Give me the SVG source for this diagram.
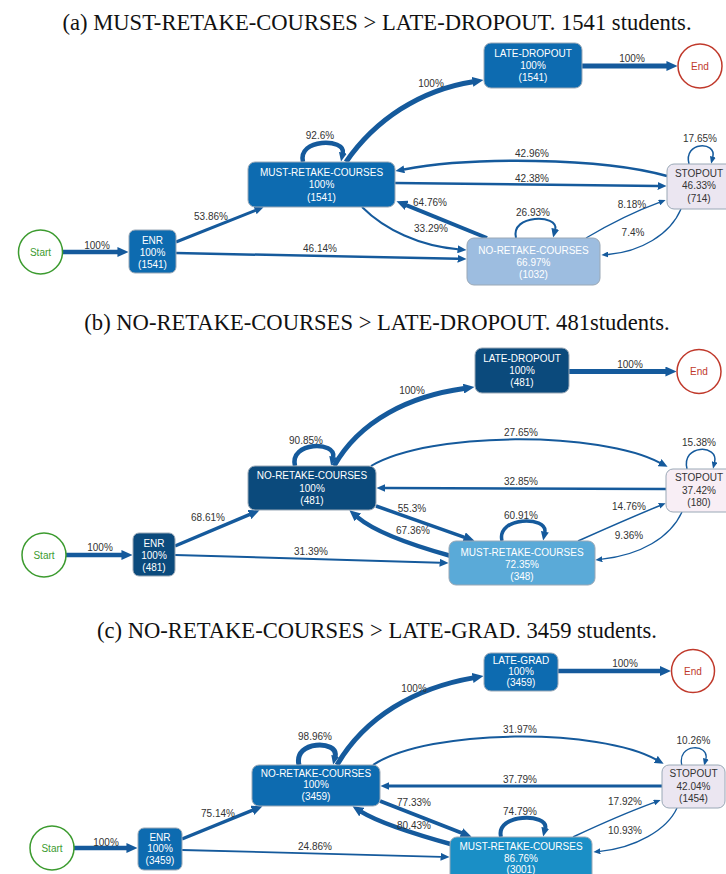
<svg xmlns="http://www.w3.org/2000/svg" width="726" height="874" viewBox="0 0 726 874">
<defs>
<style>
.title{font-family:"Liberation Serif","Times New Roman",serif;font-size:22.6px;fill:#111;text-anchor:middle}
.nt{font-family:"Liberation Sans",Arial,sans-serif;font-size:10px;text-anchor:middle;fill:#fff}
.nd{fill:#333}
.lb{font-family:"Liberation Sans",Arial,sans-serif;font-size:10px;text-anchor:middle;fill:#333}
.box{stroke:#9aa8b6;stroke-width:1}
.mid{fill:#0d6bb0}
.dark{fill:#0b4a7c}
.stop{fill:#ebe6f1}
.stopb{fill:#f8eef5}
.start{fill:#fff;stroke:#3c9b2f;stroke-width:1.5}
.end{fill:#fff;stroke:#c0392b;stroke-width:1.5}
.st{font-family:"Liberation Sans",Arial,sans-serif;font-size:10px;text-anchor:middle;fill:#3c9b2f}
.et{font-family:"Liberation Sans",Arial,sans-serif;font-size:10px;text-anchor:middle;fill:#c0392b}
.e{fill:none;stroke:#155a9c}
.el{marker-end:url(#al)}
.em{marker-end:url(#am)}
.es{marker-end:url(#as)}
</style>
<marker id="al" viewBox="0 0 10 10" refX="0.5" refY="5" markerWidth="11" markerHeight="10" markerUnits="userSpaceOnUse" orient="auto" preserveAspectRatio="none"><path d="M0,0 L10,5 L0,10 z" fill="#155a9c"/></marker>
<marker id="am" viewBox="0 0 10 10" refX="0.5" refY="5" markerWidth="9" markerHeight="8" markerUnits="userSpaceOnUse" orient="auto" preserveAspectRatio="none"><path d="M0,0 L10,5 L0,10 z" fill="#155a9c"/></marker>
<marker id="as" viewBox="0 0 10 10" refX="0.5" refY="5" markerWidth="7" markerHeight="6" markerUnits="userSpaceOnUse" orient="auto" preserveAspectRatio="none"><path d="M0,0 L10,5 L0,10 z" fill="#155a9c"/></marker>
</defs>
<rect x="0" y="0" width="726" height="874" fill="#fff"/>

<!-- ================= PANEL A ================= -->
<text class="title" x="377" y="29.5">(a) MUST-RETAKE-COURSES &gt; LATE-DROPOUT. 1541 students.</text>
<g id="a-connectors">
<path class="e el" stroke-width="4.5" d="M62.5 252 L118 252"/>
<path class="e em" stroke-width="3" d="M176 242 L255.6 210.3"/>
<path class="e em" stroke-width="2.5" d="M176 253 L458 258.8"/>
<path class="e em" stroke-width="4.5" d="M303 162 C297 138 346 138 342.8 153.2"/>
<path class="e el" stroke-width="5" d="M346 162 C375 120 420 90 473.1 81.7"/>
<path class="e el" stroke-width="5" d="M582 66 L667 66"/>
<path class="e em" stroke-width="2.5" d="M667 176 C600 157 470 157 403.8 169.4"/>
<path class="e em" stroke-width="2.5" d="M395 183 L658 185.9"/>
<path class="e el" stroke-width="4" d="M487 238 L406.2 205.1"/>
<path class="e em" stroke-width="2" d="M362 207 C385 230 420 246 458 249.2"/>
<path class="e em" stroke-width="2" d="M516 238 C510 214 559 214 555.2 229.3"/>
<path class="e es" stroke-width="1.3" d="M586 238 Q625 215 659.4 202.4"/>
<path class="e es" stroke-width="1.3" d="M681 209 C670 235 640 252 608 254.5"/>
<path class="e es" stroke-width="1.5" d="M689 164 C683 141 717 141 712.8 157.2"/>
<text class="lb" x="97" y="248.5">100%</text>
<text class="lb" x="211" y="219.5">53.86%</text>
<text class="lb" x="320" y="251.5">46.14%</text>
<text class="lb" x="320" y="138.5">92.6%</text>
<text class="lb" x="431" y="86.5">100%</text>
<text class="lb" x="632" y="61.5">100%</text>
<text class="lb" x="532" y="156.5">42.96%</text>
<text class="lb" x="532" y="181.5">42.38%</text>
<text class="lb" x="430" y="205.5">64.76%</text>
<text class="lb" x="431" y="231.5">33.29%</text>
<text class="lb" x="533" y="215.5">26.93%</text>
<text class="lb" x="632" y="207.5">8.18%</text>
<text class="lb" x="633" y="235.5">7.4%</text>
<text class="lb" x="700" y="141.5">17.65%</text>
</g>
<g id="a-start"><circle class="start" cx="40.5" cy="252" r="22"/><text class="st" x="40.5" y="255.5">Start</text></g>
<g id="a-enr"><rect class="box mid" x="129" y="230" width="47" height="43" rx="6"/><text class="nt" x="152.5" y="243.5">ENR</text><text class="nt" x="152.5" y="255.5">100%</text><text class="nt" x="152.5" y="267.5">(1541)</text></g>
<g id="a-must"><rect class="box mid" x="248" y="162" width="147" height="45" rx="7"/><text class="nt" x="321.5" y="175.5">MUST-RETAKE-COURSES</text><text class="nt" x="321.5" y="188">100%</text><text class="nt" x="321.5" y="200.5">(1541)</text></g>
<g id="a-late"><rect class="box mid" x="484" y="43" width="98" height="45" rx="7"/><text class="nt" x="533" y="57">LATE-DROPOUT</text><text class="nt" x="533" y="69">100%</text><text class="nt" x="533" y="81">(1541)</text></g>
<g id="a-end"><circle class="end" cx="700" cy="66" r="22"/><text class="et" x="700" y="69.5">End</text></g>
<g id="a-stop"><rect class="box stop" x="667" y="164" width="66" height="45" rx="7"/><text class="nt nd" x="699" y="177">STOPOUT</text><text class="nt nd" x="699" y="189">46.33%</text><text class="nt nd" x="699" y="201.5">(714)</text></g>
<g id="a-no"><rect class="box" fill="#9dbde0" x="467" y="238" width="133" height="47" rx="7"/><text class="nt" x="533.5" y="253.5">NO-RETAKE-COURSES</text><text class="nt" x="533.5" y="265.5">66.97%</text><text class="nt" x="533.5" y="277.5">(1032)</text></g>

<!-- ================= PANEL B ================= -->
<text class="title" x="377" y="329.5">(b) NO-RETAKE-COURSES &gt; LATE-DROPOUT. 481students.</text>
<g id="b-connectors">
<path class="e el" stroke-width="4.5" d="M66 555 L122 555"/>
<path class="e el" stroke-width="3.5" d="M175 546 L249.9 514.3"/>
<path class="e em" stroke-width="2" d="M175 555 L440 562.7"/>
<path class="e em" stroke-width="4.5" d="M295 466 C289 441 337 441 333.1 457.3"/>
<path class="e el" stroke-width="5" d="M334 466 C360 420 410 396 464.1 388.5"/>
<path class="e el" stroke-width="5" d="M569 371.5 L666 371.5"/>
<path class="e em" stroke-width="2" d="M371 466 C430 431 600 431 660 462.8"/>
<path class="e em" stroke-width="2.5" d="M666 489 L385 488"/>
<path class="e el" stroke-width="3.5" d="M376 506 L464.6 537.3"/>
<path class="e el" stroke-width="4.5" d="M451 556 C415 546 375 532 357.4 517.1"/>
<path class="e em" stroke-width="3.5" d="M502 541 C496 516 548 516 544.8 532.2"/>
<path class="e es" stroke-width="1.5" d="M578 541 Q625 520 659.5 505.7"/>
<path class="e es" stroke-width="1.3" d="M682 512 C670 538 640 555 602 559.2"/>
<path class="e es" stroke-width="1.5" d="M687 469 C681 444 719 444 714.6 462.2"/>
<text class="lb" x="100" y="550.5">100%</text>
<text class="lb" x="208" y="520.5">68.61%</text>
<text class="lb" x="311" y="554.5">31.39%</text>
<text class="lb" x="306" y="443.5">90.85%</text>
<text class="lb" x="412" y="393.5">100%</text>
<text class="lb" x="630" y="367.5">100%</text>
<text class="lb" x="521" y="435.5">27.65%</text>
<text class="lb" x="521" y="485">32.85%</text>
<text class="lb" x="412" y="511.5">55.3%</text>
<text class="lb" x="413" y="533.5">67.36%</text>
<text class="lb" x="521" y="518.5">60.91%</text>
<text class="lb" x="629" y="509.5">14.76%</text>
<text class="lb" x="629" y="538.5">9.36%</text>
<text class="lb" x="699" y="446">15.38%</text>
</g>
<g id="b-start"><circle class="start" cx="44" cy="555" r="22"/><text class="st" x="44" y="558.5">Start</text></g>
<g id="b-enr"><rect class="box dark" x="133" y="533" width="42" height="43" rx="6"/><text class="nt" x="154" y="546.5">ENR</text><text class="nt" x="154" y="558.5">100%</text><text class="nt" x="154" y="570.5">(481)</text></g>
<g id="b-no"><rect class="box dark" x="248" y="466" width="128" height="44" rx="7"/><text class="nt" x="312" y="479">NO-RETAKE-COURSES</text><text class="nt" x="312" y="491.5">100%</text><text class="nt" x="312" y="504">(481)</text></g>
<g id="b-late"><rect class="box dark" x="475" y="348" width="94" height="45" rx="7"/><text class="nt" x="522" y="362">LATE-DROPOUT</text><text class="nt" x="522" y="374">100%</text><text class="nt" x="522" y="386">(481)</text></g>
<g id="b-end"><circle class="end" cx="699" cy="371.5" r="22"/><text class="et" x="699" y="375">End</text></g>
<g id="b-stop"><rect class="box stopb" x="666" y="469" width="67" height="43" rx="7"/><text class="nt nd" x="699" y="481">STOPOUT</text><text class="nt nd" x="699" y="493.5">37.42%</text><text class="nt nd" x="699" y="505.5">(180)</text></g>
<g id="b-must"><rect class="box" fill="#5aaad8" x="449" y="541" width="146" height="44" rx="7"/><text class="nt" x="522" y="555.5">MUST-RETAKE-COURSES</text><text class="nt" x="522" y="567.5">72.35%</text><text class="nt" x="522" y="579.5">(348)</text></g>

<!-- ================= PANEL C ================= -->
<text class="title" x="377" y="638">(c) NO-RETAKE-COURSES &gt; LATE-GRAD. 3459 students.</text>
<g id="c-connectors">
<path class="e el" stroke-width="4.5" d="M74 848 L127 848"/>
<path class="e el" stroke-width="3.5" d="M182 839 L252.8 810.1"/>
<path class="e em" stroke-width="1.8" d="M182 850 L441 856.8"/>
<path class="e em" stroke-width="5" d="M299 765 C293 740 339 740 335.1 756.3"/>
<path class="e el" stroke-width="5" d="M337 765 C365 717 415 688 473.2 677.9"/>
<path class="e el" stroke-width="4.5" d="M558 671 L660.5 671"/>
<path class="e em" stroke-width="2" d="M373 765 C430 728 600 728 656.2 759.6"/>
<path class="e em" stroke-width="3" d="M662 786 L389 786"/>
<path class="e el" stroke-width="4" d="M380 801 L461.8 833"/>
<path class="e el" stroke-width="4.5" d="M454 845 C418 835 378 822 361.4 811.8"/>
<path class="e em" stroke-width="4" d="M501 837 C495 813 549 813 545.2 828.3"/>
<path class="e es" stroke-width="1.5" d="M573 837 Q620 815 654.4 802.4"/>
<path class="e es" stroke-width="1.3" d="M677 808 C667 830 635 848 600 851.3"/>
<path class="e es" stroke-width="1.3" d="M682 766 C676 743 710 743 705.8 759.2"/>
<text class="lb" x="106" y="846">100%</text>
<text class="lb" x="218" y="816.5">75.14%</text>
<text class="lb" x="315" y="850">24.86%</text>
<text class="lb" x="315" y="740">98.96%</text>
<text class="lb" x="414" y="691.5">100%</text>
<text class="lb" x="625" y="666.5">100%</text>
<text class="lb" x="520" y="732.5">31.97%</text>
<text class="lb" x="520" y="783">37.79%</text>
<text class="lb" x="414" y="806">77.33%</text>
<text class="lb" x="414" y="828.5">80.43%</text>
<text class="lb" x="520" y="815">74.79%</text>
<text class="lb" x="625" y="805">17.92%</text>
<text class="lb" x="625" y="833.5">10.93%</text>
<text class="lb" x="693.5" y="744">10.26%</text>
</g>
<g id="c-start"><circle class="start" cx="52" cy="848" r="22"/><text class="st" x="52" y="851.5">Start</text></g>
<g id="c-enr"><rect class="box mid" x="138" y="828" width="44" height="42" rx="6"/><text class="nt" x="160" y="840.5">ENR</text><text class="nt" x="160" y="852">100%</text><text class="nt" x="160" y="864">(3459)</text></g>
<g id="c-no"><rect class="box mid" x="252" y="765" width="128" height="41" rx="7"/><text class="nt" x="316" y="776.5">NO-RETAKE-COURSES</text><text class="nt" x="316" y="788">100%</text><text class="nt" x="316" y="799.5">(3459)</text></g>
<g id="c-late"><rect class="box mid" x="484" y="653" width="74" height="38" rx="7"/><text class="nt" x="521" y="663.5">LATE-GRAD</text><text class="nt" x="521" y="674.5">100%</text><text class="nt" x="521" y="685.5">(3459)</text></g>
<g id="c-end"><circle class="end" cx="693" cy="671" r="21.5"/><text class="et" x="693" y="674.5">End</text></g>
<g id="c-stop"><rect class="box stop" x="662" y="765" width="63" height="43" rx="7"/><text class="nt nd" x="693.5" y="777">STOPOUT</text><text class="nt nd" x="693.5" y="789.5">42.04%</text><text class="nt nd" x="693.5" y="802">(1454)</text></g>
<g id="c-must"><rect class="box" fill="#1a8fc6" x="450" y="837" width="142" height="44" rx="7"/><text class="nt" x="521" y="850">MUST-RETAKE-COURSES</text><text class="nt" x="521" y="861.5">86.76%</text><text class="nt" x="521" y="873">(3001)</text></g>
</svg>
